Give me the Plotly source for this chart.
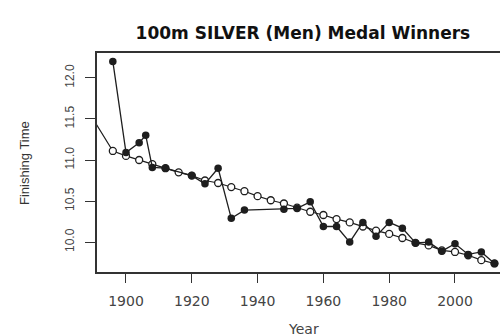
import plotly.graph_objects as go

# Observed silver medal times
years = [1896, 1900, 1904, 1906, 1908, 1912, 1920, 1924, 1928, 1932, 1936, 1948,
         1952, 1956, 1960, 1964, 1968, 1972, 1976, 1980, 1984, 1988, 1992, 1996,
         2000, 2004, 2008, 2012]
times = [12.20, 11.09, 11.21, 11.30, 10.91, 10.90, 10.81, 10.71, 10.90, 10.29, 10.39, 10.40,
         10.41, 10.49, 10.19, 10.19, 10.00, 10.24, 10.07, 10.24, 10.17, 9.99, 10.00, 9.89,
         9.98, 9.85, 9.88, 9.74]

# Fitted / predicted values (open circles)
fit_years = [1888, 1896, 1900, 1904, 1908, 1912, 1916, 1920, 1924, 1928, 1932, 1936, 1940,
             1944, 1948, 1952, 1956, 1960, 1964, 1968, 1972, 1976, 1980, 1984, 1988,
             1992, 1996, 2000, 2004, 2008, 2012]
fit_times = [11.63, 11.11, 11.05, 11.00, 10.95, 10.90, 10.85, 10.81, 10.75, 10.72, 10.67, 10.62,
             10.56, 10.51, 10.47, 10.42, 10.37, 10.33, 10.28, 10.24, 10.19, 10.14, 10.10, 10.05,
             9.99, 9.96, 9.90, 9.88, 9.84, 9.78, 9.74]

x_ticks = [1900, 1920, 1940, 1960, 1980, 2000]
y_ticks = [10.0, 10.5, 11.0, 11.5, 12.0]
y_tick_text = ["10.0", "10.5", "11.0", "11.5", "12.0"]

INK = "#1e1e1e"
W, H = 500, 336
ML, MR, MT, MB = 97, 0, 53, 64

fig = go.Figure()
fig.add_trace(go.Scatter(
    x=fit_years, y=fit_times, mode="lines+markers",
    line=dict(color=INK, width=1.2),
    marker=dict(symbol="circle", size=7, color="white", line=dict(color=INK, width=1.3)),
    showlegend=False, hoverinfo="skip"))
fig.add_trace(go.Scatter(
    x=years, y=times, mode="lines+markers",
    line=dict(color=INK, width=1.3),
    marker=dict(symbol="circle", size=7.5, color=INK),
    showlegend=False, hoverinfo="skip"))

pw, ph = W - ML - MR, H - MT - MB
def px_to_paper(px, py):
    return (px - ML) / pw, (H - MB - py) / ph

ax, ay = px_to_paper(303, 329)
bx, by = px_to_paper(24, 163)

fig.update_layout(
    width=W, height=H,
    margin=dict(l=ML, r=MR, t=MT, b=MB, autoexpand=False),
    paper_bgcolor="white", plot_bgcolor="white",
    title=dict(text="<b>100m SILVER (Men) Medal Winners</b>",
               font=dict(family="DejaVu Sans", size=17, color="#111111"),
               x=0.511, xref="paper", xanchor="center",
               y=1 - 33 / H, yref="container", yanchor="middle"),
    xaxis=dict(range=[1891.19, 2013.68], tickvals=x_ticks,
               showgrid=False, zeroline=False,
               showline=True, linecolor="#333333", linewidth=1.5, mirror=True,
               ticks="outside", ticklen=9, tickcolor="#333333", tickwidth=1.2,
               ticklabelstandoff=6,
               tickfont=dict(family="DejaVu Sans", size=14, color="#444444")),
    yaxis=dict(range=[9.636, 12.303], tickvals=y_ticks, ticktext=y_tick_text,
               showgrid=False, zeroline=False,
               showline=True, linecolor="#333333", linewidth=1.5, mirror=False,
               ticks="outside", ticklen=10, tickcolor="#333333", tickwidth=1.2,
               tickangle=-90, ticklabelstandoff=6,
               tickfont=dict(family="Liberation Sans", size=12, color="#444444")),
    annotations=[
        dict(text="Year", x=ax, y=ay, xref="paper", yref="paper",
             xanchor="center", yanchor="middle", showarrow=False,
             font=dict(family="DejaVu Sans", size=14, color="#444444")),
        dict(text="Finishing Time", x=bx, y=by, xref="paper", yref="paper",
             xanchor="center", yanchor="middle", showarrow=False, textangle=-90,
             font=dict(family="Liberation Sans", size=13, color="#333333")),
    ],
)

fig.write_html("out.html", config={"displayModeBar": False},
               post_script="document.body.style.margin='0';document.body.style.overflow='hidden';")
